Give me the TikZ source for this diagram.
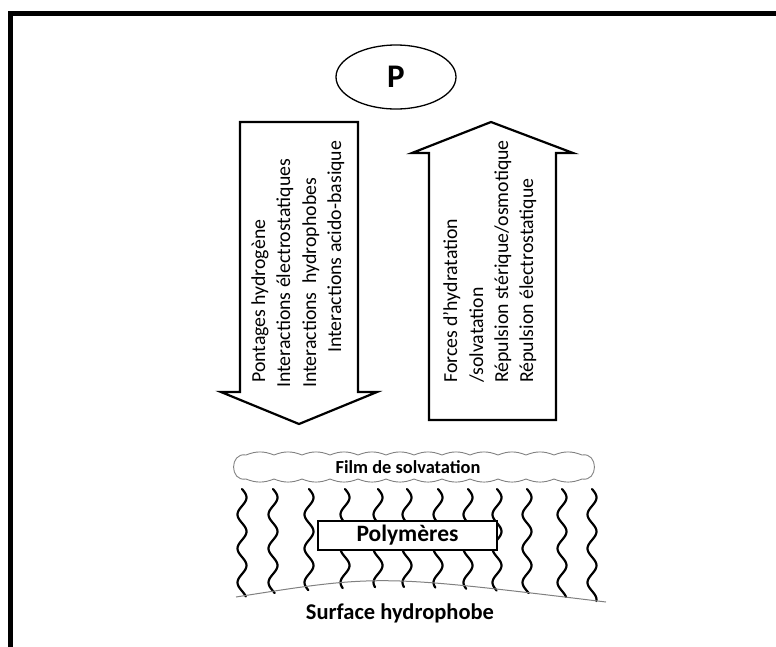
\documentclass[tikz,border=0pt]{standalone}
\usepackage{fontspec}
\setmainfont{Carlito}
\usetikzlibrary{shapes.geometric}

\begin{document}
\begin{tikzpicture}[x=1pt, y=1pt,
    force/.style={draw, line width=2.2pt, line join=miter},
    lbl/.style={rotate=90, anchor=base west, inner sep=0pt, font=\fontsize{19.8}{25}\selectfont},
    chain/.style={line width=2.2pt, line cap=round}]

    \useasboundingbox (0,0) rectangle (776,-646);

    % cadre
    \draw[line width=4.5pt] (10.5,-660) -- (10.5,-13.3) -- (790,-13.3);

    \node[draw, ellipse, line width=1.3pt, minimum width=120pt, minimum height=64pt,
          font=\bfseries\fontsize{33}{33}\selectfont] (p) at (396,-77) {P};

    % fleche vers le bas
    \draw[force] (240,-122) -- (358,-122) -- (358,-392) -- (377,-392)
        -- (299,-424) -- (221,-392) -- (240,-392) -- cycle;
    \node[lbl] (d1) at (265,-383) {Pontages hydrogène};
    \node[lbl] (d2) at (290,-388) {Interactions électrostatiques};
    \node[lbl] (d3) at (316,-388) {Interactions\ \ hydrophobes};
    \node[lbl] (d4) at (341,-353) {Interactions acido-basique};

    % fleche vers le haut
    \draw[force] (429,-420) -- (556,-420) -- (556,-153) -- (573,-153)
        -- (491,-122) -- (412,-153) -- (429,-153) -- cycle;
    \node[lbl] (u1) at (457,-383) {Forces d’hydratation};
    \node[lbl] (u2) at (483,-383) {/solvatation};
    \node[lbl] (u3) at (508,-383) {Répulsion stérique/osmotique};
    \node[lbl] (u4) at (533,-383) {Répulsion électrostatique};

    % film
    \draw[gray, line width=0.9pt]
        (246,-455) \foreach \i in {1,...,12} { to[bend left=22] ++(28,0) }
        to[out=10, in=-10, looseness=1.8] ++(0,-24)
        \foreach \i in {1,...,12} { to[bend left=22] ++(-28,0) }
        to[out=190, in=170, looseness=1.8] cycle;
    \node[font=\bfseries\fontsize{18.4}{20}\selectfont] (film) at (408,-467) {Film de solvatation};

    % chaines
    \foreach \cx in {242,273,309,345,378,407,438,468,497,527,562,592} {
        \pgfmathsetmacro\yb{98+0.038*((\cx-400)/10)^2}
        \draw[chain] plot[domain=0:\yb, samples=70, smooth]
            ({\cx+4.5*sin(\x/34*360)}, {-489-\x});
    }

    \node[draw, fill=white, line width=1.6pt, minimum width=179pt, minimum height=29pt,
          font=\bfseries\fontsize{23.5}{25}\selectfont] (poly) at (407.5,-535.5) {Polymères};

    % surface
    \draw[gray, line width=1pt] (236,-597) .. controls (379,-574.5) .. (606,-602);
    \node[font=\bfseries\fontsize{22.5}{25}\selectfont] (surf) at (400,-613) {Surface hydrophobe};

\end{tikzpicture}
\end{document}
